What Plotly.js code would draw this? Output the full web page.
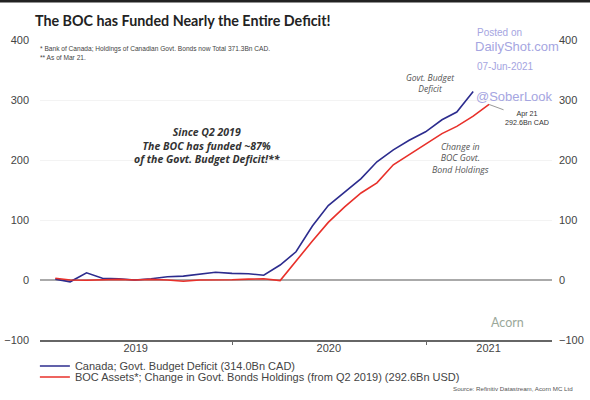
<!DOCTYPE html>
<html>
<head>
<meta charset="utf-8">
<script src="https://cdn.plot.ly/plotly-3.0.1.min.js"></script>
<style>
  html, body { margin: 0; padding: 0; background: #fff; }
  #chart { width: 590px; height: 400px; }
</style>
</head>
<body>
<div id="chart"></div>
<script>
// Month-end dates (monthly observations)
const deficitDates = [
  '2019-01-31','2019-02-28','2019-03-31','2019-04-30','2019-05-31','2019-06-30',
  '2019-07-31','2019-08-31','2019-09-30','2019-10-31','2019-11-30','2019-12-31',
  '2020-01-31','2020-02-29','2020-03-31','2020-04-30','2020-05-31','2020-06-30',
  '2020-07-31','2020-08-31','2020-09-30','2020-10-31','2020-11-30','2020-12-31',
  '2021-01-31','2021-02-28','2021-03-31'
];
// Canada; Govt. Budget Deficit (Bn CAD, cumulative)
const deficitValues = [
  1.5, -3, 12, 3, 2, 0, 2, 5.5, 6.5, 10, 13, 11,
  10.5, 8, 25, 47, 90, 124, 147, 169, 197, 217, 233, 247,
  267, 280, 314.0
];

const bocDates = [
  '2019-01-31','2019-02-28','2019-03-31','2019-04-30','2019-05-31','2019-06-30',
  '2019-07-31','2019-08-31','2019-09-30','2019-10-31','2019-11-30','2019-12-31',
  '2020-01-31','2020-02-29','2020-03-31','2020-04-30','2020-05-31','2020-06-30',
  '2020-07-31','2020-08-31','2020-09-30','2020-10-31','2020-11-30','2020-12-31',
  '2021-01-31','2021-02-28','2021-03-31','2021-04-30'
];
// BOC Assets; Change in Govt. Bonds Holdings (from Q2 2019)
const bocValues = [
  3, 0, -0.5, 0, 1, 0, 1, 0, -2, 0, 0, 0.5,
  1.5, 2, -1, 32, 65, 96, 122, 145, 162, 192, 209, 226,
  244, 256, 273, 292.6
];

const seriesNames = [
  'Canada; Govt. Budget Deficit (314.0Bn CAD)',
  'BOC Assets*; Change in Govt. Bonds Holdings (from Q2 2019) (292.6Bn USD)'
];
const yTicks = [-100, 0, 100, 200, 300, 400];
const xRange = ['2019-01-02', '2021-08-27'];
const yearTicks = ['2019-01-01', '2020-01-01', '2021-01-01'];
// year labels centred on the visible part of each year
const yearLabelPos = ['2019-07-02', '2020-07-01', '2021-04-29'];
const yearLabels = ['2019', '2020', '2021'];

const BLUE = '#2c2c8e';
const RED = '#e8302a';
const WM = 'rgb(165,165,225)';

const traces = [
  {
    x: deficitDates, y: deficitValues, type: 'scatter', mode: 'lines',
    name: seriesNames[0], line: { color: BLUE, width: 1.6 }, legend: 'legend'
  },
  {
    x: bocDates, y: bocValues, type: 'scatter', mode: 'lines',
    name: seriesNames[1], line: { color: RED, width: 1.6 }, legend: 'legend2'
  },
  // invisible carrier so the secondary (label / right) axes are drawn
  { x: [bocDates[0]], y: [bocValues[0]], xaxis: 'x2', yaxis: 'y2', type: 'scatter', mode: 'lines',
    showlegend: false, hoverinfo: 'skip', line: { width: 0 } }
];

const px = p => (p - 40) / 512;      // pixel x -> paper x
const py = p => (340 - p) / 300;     // pixel y -> paper y

const ann = [
  { text: '* Bank of Canada; Holdings of Canadian Govt. Bonds now Total 371.3Bn CAD.<br>** As of Mar 21.',
    xref: 'paper', yref: 'paper', x: px(38), y: py(53), xanchor: 'left', yanchor: 'middle',
    align: 'left', showarrow: false, font: { family: 'Liberation Sans Narrow, Liberation Sans', size: 6.6, color: '#444' } },
  { text: 'Posted on', xref: 'paper', yref: 'paper', x: px(475), y: py(32), xanchor: 'left', yanchor: 'middle',
    showarrow: false, font: { family: 'Liberation Sans', size: 10, color: WM } },
  { text: 'DailyShot.com', xref: 'paper', yref: 'paper', x: px(473), y: py(47), xanchor: 'left', yanchor: 'middle',
    showarrow: false, font: { family: 'Liberation Sans', size: 13, color: WM } },
  { text: '07-Jun-2021', xref: 'paper', yref: 'paper', x: px(475), y: py(66), xanchor: 'left', yanchor: 'middle',
    showarrow: false, font: { family: 'Liberation Sans', size: 10, color: WM } },
  { text: '@SoberLook', xref: 'paper', yref: 'paper', x: px(474), y: py(96), xanchor: 'left', yanchor: 'middle',
    showarrow: false, font: { family: 'Liberation Sans', size: 13, color: WM } },
  { text: '<i>Govt. Budget<br>Deficit</i>', xref: 'paper', yref: 'paper', x: px(430), y: py(83),
    xanchor: 'center', yanchor: 'middle', showarrow: false,
    font: { family: 'Open Sans', size: 8.5, color: '#555' } },
  { text: '<i>Change in<br>BOC Govt.<br>Bond Holdings</i>', xref: 'paper', yref: 'paper', x: px(460), y: py(158.5),
    xanchor: 'center', yanchor: 'middle', showarrow: false,
    font: { family: 'Open Sans', size: 8.8, color: '#555' } },
  { text: '<b><i>Since Q2 2019<br>The BOC has funded ~87%<br>of the Govt. Budget Deficit!**</i></b>',
    xref: 'paper', yref: 'paper', x: px(207), y: py(145), xanchor: 'center', yanchor: 'middle',
    showarrow: false, font: { family: 'Open Sans', size: 10.5, color: '#333' } },
  { text: 'Apr 21<br>292.6Bn CAD', x: bocDates[bocDates.length - 1], y: bocValues[bocValues.length - 1],
    xref: 'x', yref: 'y', ax: 38, ay: 14, showarrow: true, arrowhead: 0, arrowwidth: 1, arrowcolor: '#999',
    font: { family: 'Liberation Sans', size: 7.2, color: '#333' } },
  { text: 'Acorn', xref: 'paper', yref: 'paper', x: px(507), y: py(322), xanchor: 'center', yanchor: 'middle',
    showarrow: false, font: { family: 'Lato', size: 12.5, color: '#9aa89a' } },
  { text: 'Source: Refinitiv Datastream, Acorn MC Ltd', xref: 'paper', yref: 'paper', x: px(575), y: py(388),
    xanchor: 'right', yanchor: 'middle', showarrow: false,
    font: { family: 'Liberation Sans Narrow, Liberation Sans', size: 6.2, color: '#555' } }
];

const axisFont = { family: 'Liberation Sans', size: 11, color: '#444' };

const layout = {
  width: 590, height: 400,
  margin: { l: 40, r: 38, t: 40, b: 60, autoexpand: false },
  paper_bgcolor: '#fff', plot_bgcolor: '#fff',
  showlegend: true,
  title: {
    text: '<b>The BOC has Funded Nearly the Entire Deficit!</b>',
    xref: 'container', yref: 'container', x: 35 / 590, xanchor: 'left', y: 1 - 21 / 400, yanchor: 'middle',
    font: { family: 'Lato', size: 14.3, color: '#222' }
  },
  xaxis: {
    type: 'date', range: xRange,
    tickvals: yearTicks, showticklabels: false,
    ticks: 'outside', ticklen: 3, tickcolor: '#666',
    showline: true, linecolor: '#666', linewidth: 1.5,
    showgrid: false, zeroline: false
  },
  xaxis2: {
    type: 'date', range: xRange, overlaying: 'x', side: 'bottom',
    tickvals: yearLabelPos, ticktext: yearLabels, ticks: '', ticklabelstandoff: 0,
    showline: false, showgrid: false, zeroline: false, tickfont: axisFont
  },
  yaxis: {
    range: [-100, 400], tickvals: yTicks, ticks: '', ticklabelstandoff: 10,
    showgrid: true, gridcolor: '#f3f3f3', gridwidth: 1,
    zeroline: true, zerolinecolor: '#aaa', zerolinewidth: 1.5,
    showline: false, tickfont: axisFont
  },
  yaxis2: {
    overlaying: 'y', side: 'right', range: [-100, 400], tickvals: yTicks, ticks: '',
    ticklabelstandoff: 6, showgrid: false, zeroline: false, showline: false, tickfont: axisFont
  },
  legend: {
    x: -0.01, y: py(366), xanchor: 'left', yanchor: 'middle', bgcolor: 'rgba(0,0,0,0)',
    font: { family: 'Liberation Sans', size: 11, color: '#444' }, itemwidth: 30
  },
  legend2: {
    x: -0.01, y: py(377), xanchor: 'left', yanchor: 'middle', bgcolor: 'rgba(0,0,0,0)',
    font: { family: 'Liberation Sans', size: 11, color: '#444' }, itemwidth: 30
  },
  annotations: ann,
  shapes: [
    { type: 'line', xref: 'paper', yref: 'paper', x0: px(0), x1: px(590), y0: py(1), y1: py(1),
      line: { color: '#222', width: 3 } }
  ]
};

Plotly.newPlot('chart', traces, layout, { staticPlot: true, displayModeBar: false });
</script>
</body>
</html>
